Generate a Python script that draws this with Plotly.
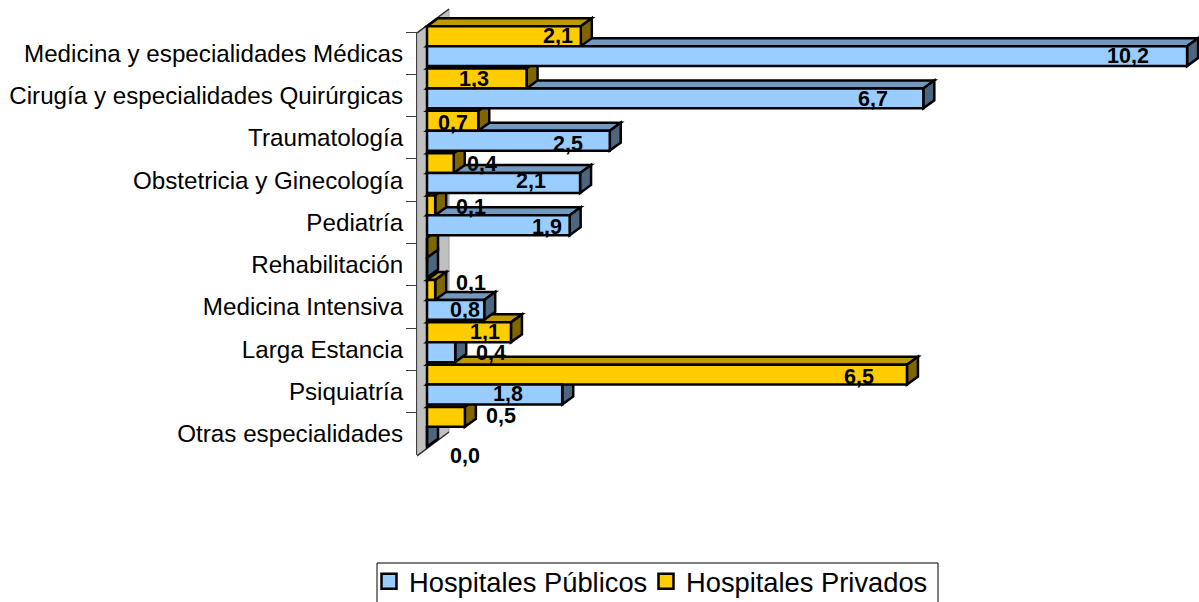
"""Camas por especialidad: 3D-look horizontal bars, public vs private hospitals."""
import plotly.graph_objects as go

categories = [
    "Medicina y especialidades Médicas",
    "Cirugía y especialidades Quirúrgicas",
    "Traumatología",
    "Obstetricia y Ginecología",
    "Pediatría",
    "Rehabilitación",
    "Medicina Intensiva",
    "Larga Estancia",
    "Psiquiatría",
    "Otras especialidades",
]
publicos = [10.23, 6.68, 2.46, 2.06, 1.92, 0.0, 0.77, 0.38, 1.82, 0.0]
privados = [2.07, 1.34, 0.69, 0.36, 0.11, 0.0, 0.11, 1.13, 6.46, 0.51]

# label nudges in pixels from the bar end / bar centre (None = no label)
pub_nudge = [(-59, 0), (-50, 1), (-42, 3), (-49, -2), (-23, 2), None, (-19, 0), (36, 1), (-54, 0), (38, 19)]
pri_nudge = [(-23, 0), (-53, 0), (-25, 2), (28, 1), (36, 2), None, (36, -7), (-26, 0), (-48, 2), (36, -1)]

W, H = 1199, 606
PX_PER_X = 74.3
PX_PER_Y = 42.3
X0_PX = 427      # x pixel of value 0
BAR_TOP_PX = 25  # top edge of the first category band
DX, DY = 11, 8   # depth of each bar
EDGE = 2.5
BLACK = "#000000"

BLUE = ("#99CCFF", "#7399BF", "#4D6680")
GOLD = ("#FFCC00", "#BF9900", "#806600")


def x_at(px):
    return (px - X0_PX) / PX_PER_X


def y_at(px):
    return (px - BAR_TOP_PX) / PX_PER_Y - 0.5


def poly(points, fill, width=EDGE, color=BLACK):
    path = "M" + "L".join(f"{x:.4f},{y:.4f}" for x, y in points) + "Z"
    return dict(type="path", path=path, fillcolor=fill, xref="x", yref="y",
                line=dict(color=color, width=width), layer="below")


def wall_edge(y0_px, y1_px):
    return dict(type="line", xref="x", yref="y", layer="below", line=dict(color="#303030", width=1.5),
                x0=x_at(417), x1=x_at(449), y0=y_at(y0_px), y1=y_at(y1_px))


BAR_GAP = 0.06
thick = (1 - BAR_GAP) / 2
ddx, ddy = DX / PX_PER_X, DY / PX_PER_Y


def faces(value, y_mid, colors):
    top, bot = y_mid - thick / 2, y_mid + thick / 2
    return [
        poly([(0, top), (ddx, top - ddy), (value + ddx, top - ddy), (value, top)], colors[1]),
        poly([(value, top), (value + ddx, top - ddy), (value + ddx, bot - ddy), (value, bot)], colors[2]),
    ]


shapes = [poly([(x_at(417), y_at(456)), (x_at(449), y_at(432)), (x_at(449), y_at(9)), (x_at(417), y_at(33))],
               "#C0C0C0", width=1, color="#A0A0A0"),
          wall_edge(33, 9), wall_edge(456, 432)]
# painted bottom to top, public before private, so upper bars cover lower ones
for i in reversed(range(len(categories))):
    shapes += faces(publicos[i], i + thick / 2, BLUE)
    shapes += faces(privados[i], i - thick / 2, GOLD)

# legend frame, runs off the bottom of the page like the original
shapes.append(dict(type="rect", xref="paper", yref="paper", line=dict(color=BLACK, width=1),
                   x0=(377 - 417) / (W - 417), x1=(938 - 417) / (W - 417), y0=0, y1=1 - 563 / H))

positions = list(range(len(categories)))
fig = go.Figure()
fig.add_trace(go.Bar(y=positions, x=privados, orientation="h", showlegend=False, name="Hospitales Privados",
                     marker=dict(color=GOLD[0], line=dict(color=BLACK, width=EDGE))))
fig.add_trace(go.Bar(y=positions, x=publicos, orientation="h", showlegend=False, name="Hospitales Públicos",
                     marker=dict(color=BLUE[0], line=dict(color=BLACK, width=EDGE))))

# carries the category axis, which sits lower than the bars
fig.add_trace(go.Scatter(x=[0] * len(categories), y=categories, yaxis="y2", mode="markers",
                         marker=dict(opacity=0), showlegend=False, hoverinfo="skip"))

# legend entries
for name, colors, legend_id in (("Hospitales Públicos", BLUE, "legend"), ("Hospitales Privados", GOLD, "legend2")):
    fig.add_trace(go.Scatter(x=[None], y=[None], mode="markers", name=name, legend=legend_id,
                             marker=dict(symbol="square", size=15, color=colors[0], line=dict(color=BLACK, width=2.5))))

annotations = []
for values, nudges, sign in ((publicos, pub_nudge, 1), (privados, pri_nudge, -1)):
    for i, (v, nudge) in enumerate(zip(values, nudges)):
        if nudge is None:
            continue
        annotations.append(dict(
            x=v, y=i + sign * thick / 2, xref="x", yref="y",
            text=f"{v:.1f}".replace(".", ","), showarrow=False,
            xshift=nudge[0], yshift=-nudge[1],
            font=dict(family="Liberation Sans", size=21.5, color=BLACK, weight="bold"),
        ))

legend_style = dict(orientation="h", y=1 - 557 / H, xanchor="left", yanchor="top",
                    borderwidth=0, bgcolor="rgba(0,0,0,0)", font=dict(size=27.3, color=BLACK))

fig.update_layout(
    width=W, height=H,
    margin=dict(l=417, r=0, t=0, b=0),
    barmode="group", bargap=BAR_GAP, bargroupgap=0,
    paper_bgcolor="white", plot_bgcolor="rgba(0,0,0,0)",
    font=dict(family="Liberation Sans", color=BLACK),
    shapes=shapes, annotations=annotations, hovermode=False,
    xaxis=dict(visible=False, range=[x_at(417), x_at(1199)]),
    # full page height so the depth faces above and below the bands are not clipped
    yaxis=dict(visible=False, range=[y_at(H), y_at(0)], domain=[0, 1]),
    yaxis2=dict(type="category", categoryarray=categories, categoryorder="array",
                range=[9.5, -0.5], domain=[1 - 455 / H, 1 - 32 / H], anchor="x",
                showline=True, linecolor="#404040", linewidth=1, showgrid=False,
                ticks="outside", tickson="boundaries", ticklen=10, tickcolor="#404040",
                ticklabelstandoff=8,
                tickfont=dict(size=24.2, color=BLACK)),
    legend=dict(x=(369 - 417) / (W - 417), **legend_style),
    legend2=dict(x=(646 - 417) / (W - 417), **legend_style),
)

fig.write_html("out.html", config=dict(displayModeBar=False),
               post_script="document.body.style.margin='0';document.body.style.overflow='hidden';")
